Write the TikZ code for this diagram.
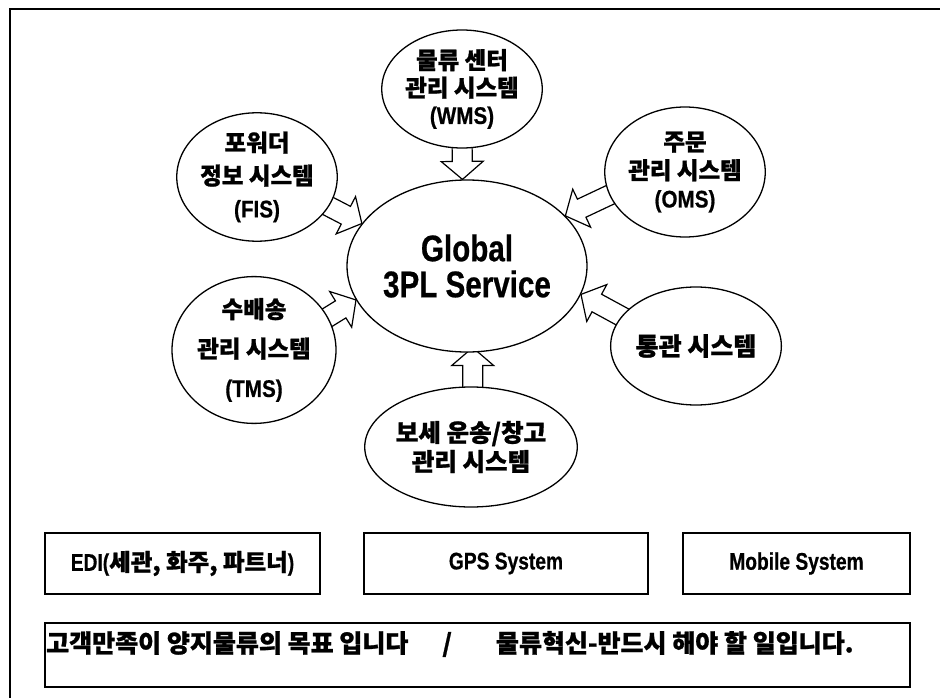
\documentclass[tikz,border=0pt]{standalone}
\usepackage{fontspec}
\usetikzlibrary{shapes.geometric,calc,backgrounds}
\newfontfamily\kr{Noto Sans CJK KR}[BoldFeatures={FakeBold=1}]
\newfontfamily\latc{Liberation Sans}[FakeStretch=0.8,BoldFeatures={FakeBold=0.6}]
\newfontfamily\latn{Liberation Sans}[FakeStretch=0.86,BoldFeatures={FakeBold=0.6}]
\newcommand{\fsz}[2]{\fontsize{#1}{#2}\selectfont}
\newcommand{\blockarrow}[2]{%
  \coordinate (ba-h) at ($(#2)!18pt!(#1)$);
  \draw[blockarr] ($(#1)!10pt!90:(#2)$) -- ($(ba-h)!10pt!90:(#2)$) -- ($(ba-h)!21pt!90:(#2)$) -- (#2)
    -- ($(ba-h)!21pt!-90:(#2)$) -- ($(ba-h)!10pt!-90:(#2)$) -- ($(#1)!10pt!-90:(#2)$) -- cycle;
}
\tikzset{
  ell/.style={ellipse, draw, fill=white, line width=1.3pt, inner sep=0pt, align=center},
  boxst/.style={rectangle, draw, line width=1.4pt, inner sep=0pt},
  blockarr/.style={draw, fill=white, line width=1.2pt, line join=miter},
  frameline/.style={line width=2pt},
}
\begin{document}
\begin{tikzpicture}[x=1pt,y=-1pt]
\useasboundingbox (0,0) rectangle (940,698);
\coordinate (fr-tl) at (10,9);
\coordinate (fr-tr) at (940,9);
\coordinate (fr-bl) at (10,698);
\draw[frameline] (fr-tr) -- (fr-tl) -- (fr-bl);

\node[ell, minimum width=240pt, minimum height=172pt, font={\latc\bfseries\fsz{37}{36}}] (global) at (467,266) {Global\\3PL Service};

\node[ell, minimum width=156pt, minimum height=118pt, font={\kr\bfseries\fsz{23.5}{27.5}}] (wms) at (462,89) {물류 센터\\관리 시스템\\{\latn\bfseries\fsz{24}{27.5}(WMS)}};
\node[ell, minimum width=144pt, minimum height=126pt, font={\kr\bfseries\fsz{23.5}{33}}] (fis) at (257,177) {포워더\\정보 시스템\\{\latn\bfseries\fsz{24}{33}(FIS)}};
\node[ell, minimum width=156pt, minimum height=130pt, font={\kr\bfseries\fsz{23.5}{28.5}}] (oms) at (685,172) {주문\\관리 시스템\\{\latn\bfseries\fsz{24}{28.5}(OMS)}};
\node[ell, minimum width=164pt, minimum height=134pt, font={\kr\bfseries\fsz{23.5}{39.5}}] (tms) at (254,350) {수배송\\관리 시스템\\{\latn\bfseries\fsz{24}{39.5}(TMS)}};
\node[ell, minimum width=156pt, minimum height=118pt, font={\kr\bfseries\fsz{25}{25}}] (customs) at (696,346) {통관 시스템};
\node[ell, minimum width=154pt, minimum height=120pt, font={\kr\bfseries\fsz{24.5}{29}}] (bonded) at (471,447) {보세 운송/창고\\관리 시스템};

\coordinate (wmsA) at ($(wms.center)!0.8!(wms.-90)$);
\coordinate (wmsB) at (global.93);
\coordinate (fisA) at ($(fis.center)!0.8!(fis.-21)$);
\coordinate (fisB) at (global.158);
\coordinate (omsA) at ($(oms.center)!0.8!(oms.195)$);
\coordinate (omsB) at (global.27);
\coordinate (tmsA) at ($(tms.center)!0.8!(tms.22)$);
\coordinate (tmsB) at (global.197);
\coordinate (cusA) at ($(customs.center)!0.8!(customs.160)$);
\coordinate (cusB) at (global.-14);
\coordinate (bonA) at ($(bonded.center)!0.8!(bonded.88)$);
\coordinate (bonB) at ($(global.-86)!5pt!(global.center)$);

\begin{scope}[on background layer]
\blockarrow{wmsA}{wmsB}
\blockarrow{fisA}{fisB}
\blockarrow{omsA}{omsB}
\blockarrow{tmsA}{tmsB}
\blockarrow{cusA}{cusB}
\blockarrow{bonA}{bonB}
\end{scope}

\node[boxst, minimum width=275pt, minimum height=61pt, font={\kr\bfseries\fsz{23.5}{23.5}}] (edi) at (182.5,563.5) {{\latc\bfseries\fsz{24}{24}EDI(}세관, 화주, 파트너{\latc\bfseries\fsz{24}{24})}};
\node[boxst, minimum width=284pt, minimum height=61pt, font={\latc\bfseries\fsz{24}{24}}] (gps) at (506,563.5) {GPS System};
\node[boxst, minimum width=227pt, minimum height=61pt, font={\latc\bfseries\fsz{24}{24}}] (mobile) at (796.5,563.5) {Mobile System};

\node[boxst, minimum width=865pt, minimum height=64pt] (goalbox) at (477.5,655) {};
\node[anchor=west, inner sep=0pt, font={\kr\bfseries\fsz{25}{25}}] (goaltext) at (46,644) {고객만족이 양지물류의 목표 입니다\hspace{34pt}/\hspace{44pt}물류혁신-반드시 해야 할 일입니다.};
\end{tikzpicture}
\end{document}
